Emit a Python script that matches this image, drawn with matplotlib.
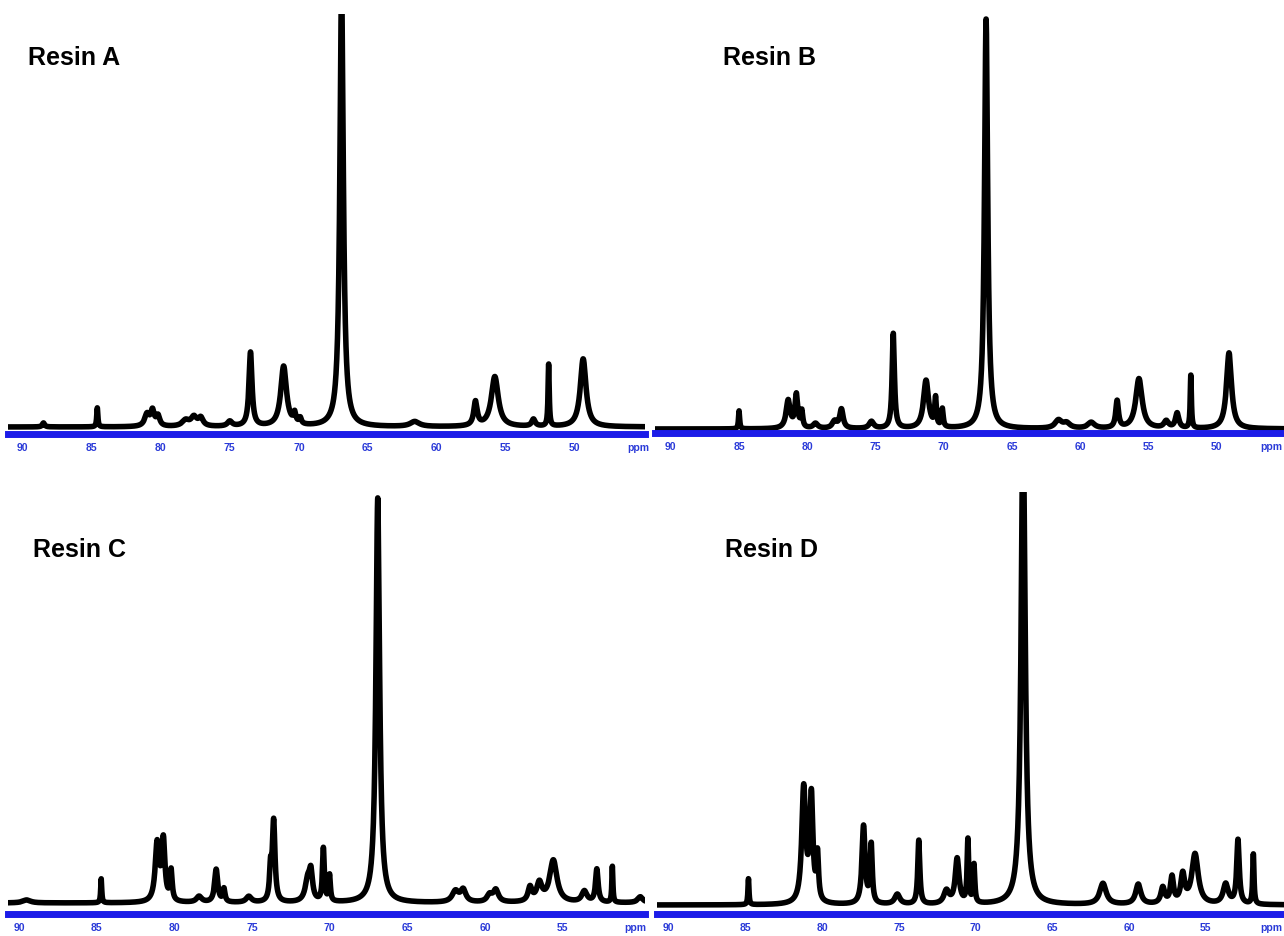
import numpy as np
import matplotlib.pyplot as plt

# peak lists: position (ppm), height (px above baseline), half width (ppm)
resin_a_ppm = [88.5, 84.6, 81.0, 80.6, 80.2, 78.2, 77.6, 77.1, 75.0, 73.5, 71.1, 70.3, 69.9,
               66.9, 61.6, 57.2, 55.8, 53.0, 51.9, 49.4]
resin_a_height = [4, 19, 12, 15, 10, 6, 9, 8, 5, 74, 60, 10, 6,
                  440, 5, 24, 50, 7, 62, 68]
resin_a_width = [0.1, 0.05, 0.2, 0.15, 0.15, 0.3, 0.25, 0.2, 0.2, 0.13, 0.25, 0.1, 0.1,
                 0.15, 0.4, 0.15, 0.3, 0.15, 0.05, 0.25]

resin_b_ppm = [85.0, 81.4, 80.8, 80.4, 79.4, 78.0, 77.5, 75.3, 73.7, 71.3, 70.6, 70.1,
               66.9, 61.6, 61.0, 59.2, 57.3, 55.7, 53.7, 52.9, 51.9, 49.1]
resin_b_height = [18, 28, 33, 16, 5, 7, 19, 7, 95, 48, 28, 18,
                  410, 8, 5, 6, 27, 50, 7, 15, 53, 76]
resin_b_width = [0.05, 0.18, 0.12, 0.08, 0.2, 0.2, 0.15, 0.2, 0.1, 0.22, 0.07, 0.07,
                 0.14, 0.3, 0.3, 0.3, 0.12, 0.28, 0.2, 0.15, 0.05, 0.22]

resin_c_ppm = [89.5, 84.7, 81.1, 80.7, 80.2, 78.4, 77.3, 76.8, 75.2, 73.8, 73.6, 71.4, 71.2,
               70.4, 70.0, 66.9, 61.9, 61.4, 59.7, 59.3, 57.1, 56.5, 55.6, 53.6, 52.8,
               51.8, 50.0]
resin_c_height = [3, 24, 58, 60, 30, 6, 33, 13, 6, 30, 80, 22, 25,
                  53, 26, 405, 11, 12, 7, 12, 14, 18, 42, 11, 33,
                  36, 6]
resin_c_width = [0.3, 0.04, 0.15, 0.12, 0.08, 0.2, 0.12, 0.08, 0.2, 0.08, 0.1, 0.2, 0.12,
                 0.07, 0.06, 0.14, 0.25, 0.2, 0.2, 0.2, 0.15, 0.2, 0.28, 0.2, 0.1,
                 0.04, 0.2]

resin_d_ppm = [84.8, 81.2, 80.7, 80.3, 77.3, 76.8, 75.1, 73.7, 71.9, 71.2, 70.5, 70.1,
               66.9, 61.7, 59.4, 57.8, 57.2, 56.5, 55.7, 53.7, 52.9, 51.9]
resin_d_height = [26, 115, 105, 45, 78, 58, 10, 64, 13, 45, 63, 38,
                  500, 21, 20, 16, 26, 28, 50, 20, 64, 50]
resin_d_width = [0.04, 0.15, 0.12, 0.08, 0.12, 0.08, 0.2, 0.08, 0.2, 0.15, 0.06, 0.06,
                 0.15, 0.25, 0.2, 0.15, 0.12, 0.15, 0.25, 0.2, 0.1, 0.05]

titles = ["Resin A", "Resin B", "Resin C", "Resin D"]
top_ticks = [90, 85, 80, 75, 70, 65, 60, 55, 50, 45.4]
top_ticks_b = [90, 85, 80, 75, 70, 65, 60, 55, 50, 46.0]
top_labels = ["90", "85", "80", "75", "70", "65", "60", "55", "50", "ppm"]
bottom_ticks = [90, 85, 80, 75, 70, 65, 60, 55, 50.3]
bottom_ticks_d = [90, 85, 80, 75, 70, 65, 60, 55, 50.7]
bottom_labels = ["90", "85", "80", "75", "70", "65", "60", "55", "ppm"]

W, H = 1284, 937
BLUE = "#1c1ce8"
TXT_BLUE = "#2a3ad8"


def spectrum(x, ppm, height, width):
    y = np.zeros_like(x)
    for p, h, w in zip(ppm, height, width):
        y += h * w ** 2 / (w ** 2 + (x - p) ** 2)
    return y


def add_panel(fig, box, xlim, ylim, peaks, ticks, labels, title, title_xy):
    # box given in pixels: left, top, right, bottom
    l, t, r, b = box
    ax = fig.add_axes([l / W, 1 - b / H, (r - l) / W, (b - t) / H])
    x = np.linspace(xlim[1], xlim[0], 6000)
    y = spectrum(x, *peaks)
    ax.plot(x, y, color="black", lw=4, solid_joinstyle="round", solid_capstyle="round")
    for s in ["left", "right", "top"]:
        ax.spines[s].set_visible(False)
    ax.spines["bottom"].set_color(BLUE)
    ax.spines["bottom"].set_linewidth(5)
    ax.set_yticks([])
    ax.set_xticks(ticks)
    ax.set_xticklabels(labels, color=TXT_BLUE, fontsize=7.5, fontweight="bold",
                       family="Liberation Sans")
    minor = np.arange(np.ceil(xlim[1]), np.floor(xlim[0]) + 1)
    ax.set_xticks(minor, minor=True)
    ax.tick_params(axis="x", which="both", direction="out", color=BLUE, width=1.5,
                   length=2.5, pad=3)
    # limits last, set_xticks would widen them otherwise
    ax.set_xlim(xlim)
    ax.set_ylim(ylim)
    ax.patch.set_visible(False)
    fig.text(title_xy[0] / W, 1 - title_xy[1] / H, title, fontsize=18, fontweight="bold",
             family="Liberation Sans", ha="left", va="center")
    return ax


fig = plt.figure(figsize=(W / 100, H / 100), dpi=100)

add_panel(fig, (8, 15, 645, 435), (91.07, 44.92), (-7, 413),
          (resin_a_ppm, resin_a_height, resin_a_width), top_ticks, top_labels,
          titles[0], (28, 58))
add_panel(fig, (655, 0, 1300, 434), (91.16, 43.9), (-4, 430),
          (resin_b_ppm, resin_b_height, resin_b_width), top_ticks_b, top_labels,
          titles[1], (723, 58))
add_panel(fig, (8, 480, 645, 915), (90.7, 49.7), (-11, 424),
          (resin_c_ppm, resin_c_height, resin_c_width), bottom_ticks, bottom_labels,
          titles[2], (33, 550))
add_panel(fig, (657, 493, 1300, 915), (90.76, 48.86), (-9, 413),
          (resin_d_ppm, resin_d_height, resin_d_width), bottom_ticks_d, bottom_labels,
          titles[3], (725, 550))

fig.savefig("out.png", dpi=100)
